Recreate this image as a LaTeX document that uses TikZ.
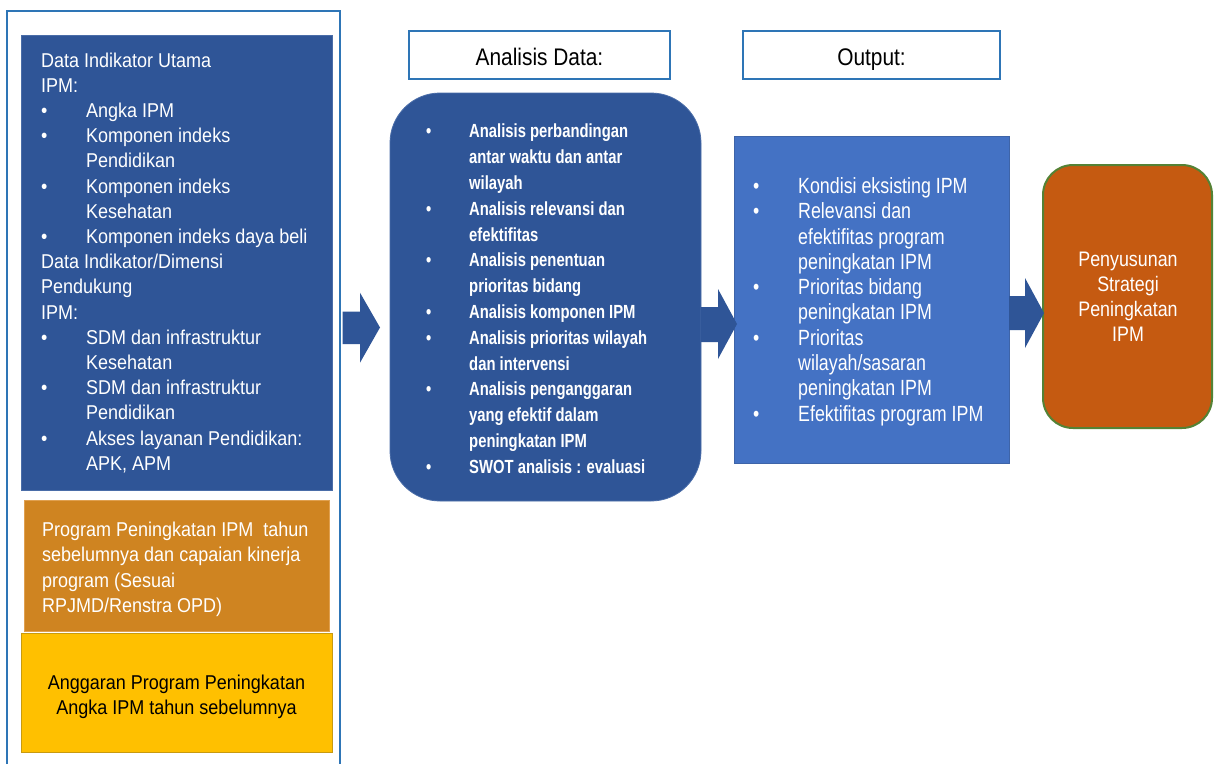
\documentclass[tikz,border=0pt]{standalone}
\usepackage{fontspec}
\setmainfont{Liberation Sans}
\newfontfamily\fL[FakeStretch=0.9]{Liberation Sans}
\newfontfamily\fA[FakeStretch=0.78]{Liberation Sans}
\newfontfamily\fO[FakeStretch=0.81]{Liberation Sans}
\newfontfamily\fF[FakeStretch=0.85]{Liberation Sans}
\newfontfamily\fH[FakeStretch=0.87]{Liberation Sans}
\definecolor{dblue}{HTML}{2F5597}
\definecolor{dblueline}{HTML}{4A6DA8}
\definecolor{mblue}{HTML}{4472C4}
\definecolor{mblueline}{HTML}{3E64A8}
\definecolor{frameblue}{HTML}{2E75B6}
\definecolor{ochre}{HTML}{CF8421}
\definecolor{ochreline}{HTML}{E0A050}
\definecolor{gold}{HTML}{FFC000}
\definecolor{goldline}{HTML}{C89A10}
\definecolor{rust}{HTML}{C55A11}
\definecolor{leaf}{HTML}{548235}
\newcommand{\bu}[1]{\makebox[#1][l]{•}}
\newcommand{\ind}[1]{\hspace*{#1}}
\tikzset{
  boxshape/.style={anchor=north west, inner sep=0pt, outer sep=0pt},
  headbox/.style={boxshape, draw=frameblue, line width=1.5pt, fill=white, minimum width=#1, minimum height=48pt},
  listtext/.style={anchor=north west, inner sep=0pt, align=left, text=white},
  blockarrow/.style={fill=dblue},
}
\begin{document}
\begin{tikzpicture}[x=1pt,y=-1pt]
\useasboundingbox (0,0) rectangle (1218,764);
\fill[white] (0,0) rectangle (1218,764);

% outer frame (open at the bottom)
\draw[frameblue, line width=1.5pt] (7,764) -- (7,11) -- (340,11) -- (340,764);

% left column boxes
\node (data) [boxshape, fill=dblue, draw=dblueline, line width=0.8pt,
  minimum width=311pt, minimum height=455pt] at (21,35) {};
\node (prog) [boxshape, fill=ochre, draw=ochreline, line width=0.8pt,
  minimum width=305pt, minimum height=131pt] at (24,500) {};
\node (angg) [boxshape, fill=gold, draw=goldline, line width=1pt,
  minimum width=311pt, minimum height=119pt] at (21,633) {};

\node (datatext) [listtext, font={\fL\fontsize{20pt}{25.2pt}\selectfont}] at (41,52.3) {%
Data Indikator Utama\\
IPM:\\
\bu{45pt}Angka IPM\\
\bu{45pt}Komponen indeks\\
\ind{45pt}Pendidikan\\
\bu{45pt}Komponen indeks\\
\ind{45pt}Kesehatan\\
\bu{45pt}Komponen indeks daya beli\\
Data Indikator/Dimensi\\
Pendukung\\
IPM:\\
\bu{45pt}SDM dan infrastruktur\\
\ind{45pt}Kesehatan\\
\bu{45pt}SDM dan infrastruktur\\
\ind{45pt}Pendidikan\\
\bu{45pt}Akses layanan Pendidikan:\\
\ind{45pt}APK, APM};

\node (progtext) [listtext, font={\fL\fontsize{20pt}{25.3pt}\selectfont}] at (42,521.7) {%
Program Peningkatan IPM \ tahun\\
sebelumnya dan capaian kinerja\\
program (Sesuai\\
RPJMD/Renstra OPD)};

\node (anggtext) [anchor=north, inner sep=0pt, align=center, text=black,
  font={\fL\fontsize{20pt}{25pt}\selectfont}] at (176.5,674.3) {%
Anggaran Program Peningkatan\\
Angka IPM tahun sebelumnya};

% headers
\node (hana) [headbox=261pt] at (409,31) {};
\node (hanatext) [anchor=base, inner sep=0pt, font={\fH\fontsize{24pt}{28pt}\selectfont}] at (539.5,65.7) {Analisis Data:};
\node (hout) [headbox=257pt] at (743,31) {};
\node (houttext) [anchor=base, inner sep=0pt, font={\fH\fontsize{24pt}{28pt}\selectfont}] at (871.5,65.7) {Output:};

% analysis box
\node (ana) [boxshape, fill=dblue, draw=dblueline, line width=0.8pt, rounded corners=50pt,
  minimum width=311pt, minimum height=408pt] at (390,93) {};
\node (anatext) [listtext, font={\fA\bfseries\fontsize{19pt}{25.8pt}\selectfont}] at (426,124) {%
\bu{43pt}Analisis perbandingan\\
\ind{43pt}antar waktu dan antar\\
\ind{43pt}wilayah\\
\bu{43pt}Analisis relevansi dan\\
\ind{43pt}efektifitas\\
\bu{43pt}Analisis penentuan\\
\ind{43pt}prioritas bidang\\
\bu{43pt}Analisis komponen IPM\\
\bu{43pt}Analisis prioritas wilayah\\
\ind{43pt}dan intervensi\\
\bu{43pt}Analisis penganggaran\\
\ind{43pt}yang efektif dalam\\
\ind{43pt}peningkatan IPM\\
\bu{43pt}SWOT analisis : evaluasi};

% output box
\node (out) [boxshape, fill=mblue, draw=mblueline, line width=0.8pt,
  minimum width=275pt, minimum height=327pt] at (734,136) {};
\node (outtext) [listtext, font={\fO\fontsize{22pt}{25.3pt}\selectfont}] at (753,177.3) {%
\bu{45pt}Kondisi eksisting IPM\\
\bu{45pt}Relevansi dan\\
\ind{45pt}efektifitas program\\
\ind{45pt}peningkatan IPM\\
\bu{45pt}Prioritas bidang\\
\ind{45pt}peningkatan IPM\\
\bu{45pt}Prioritas\\
\ind{45pt}wilayah/sasaran\\
\ind{45pt}peningkatan IPM\\
\bu{45pt}Efektifitas program IPM};

% final box
\node (fin) [boxshape, fill=rust, draw=leaf, line width=2pt, rounded corners=30pt,
  minimum width=169pt, minimum height=263pt] at (1043,165) {};
\node (fintext) [anchor=north, inner sep=0pt, align=center, text=white,
  font={\fF\fontsize{21pt}{25pt}\selectfont}] at (1128,251.7) {%
Penyusunan\\
Strategi\\
Peningkatan\\
IPM};

% block arrows
\fill[blockarrow] (342.7,311.7) -- (360,311.7) -- (360,292.7) -- (380,327.5)
  -- (360,362.7) -- (360,344) -- (342.7,344) -- cycle;
\fill[blockarrow] (701,307) -- (718,307) -- (718,289) -- (737,324)
  -- (718,359) -- (718,342) -- (701,342) -- cycle;
\fill[blockarrow] (1009,296) -- (1025,296) -- (1025,278) -- (1044,313)
  -- (1025,348) -- (1025,330) -- (1009,330) -- cycle;
\end{tikzpicture}
\end{document}
